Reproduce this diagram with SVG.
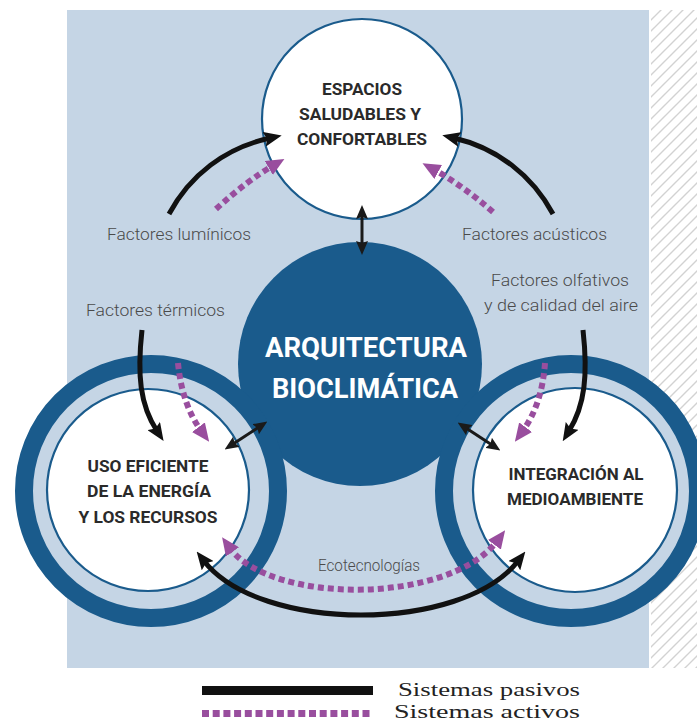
<svg xmlns="http://www.w3.org/2000/svg" width="697" height="724" viewBox="0 0 697 724">
<style>
.bg{fill:#c5d5e5}
.dark{fill:#1a5b8c}
.ring{fill:#c5d5e5;stroke:#1a5b8c;stroke-width:18}
.inner{fill:#ffffff;stroke:#1a5b8c;stroke-width:2.2}
.node{font-family:Roboto,"Liberation Sans",sans-serif;font-weight:bold;font-size:16px;fill:#2a2a2a;text-anchor:middle}
.main{font-family:Roboto,"Liberation Sans",sans-serif;font-weight:bold;font-size:27px;fill:#ffffff;text-anchor:middle}
.lab{font-family:Roboto,"Liberation Sans",sans-serif;font-weight:300;font-size:16px;fill:#4a4a4a}
.leg{font-family:"Liberation Serif",serif;font-size:19px;fill:#222222}
.pas{fill:none;stroke:#111111;stroke-width:5}
.pas2{fill:none;stroke:#1a1a1a;stroke-width:3}
.act{fill:none;stroke:#994e9e;stroke-width:6;stroke-dasharray:6 4}
</style>
<defs>
<marker id="ab" viewBox="0 0 18 15" refX="6" refY="7.5" markerWidth="18" markerHeight="15" orient="auto-start-reverse" markerUnits="userSpaceOnUse"><path d="M0,0 L18,7.5 L0,15 L3,7.5 Z" fill="#111111"/></marker>
<marker id="as" viewBox="0 0 14 12" refX="4" refY="6" markerWidth="14" markerHeight="12" orient="auto-start-reverse" markerUnits="userSpaceOnUse"><path d="M0,0 L14,6 L0,12 L2,6 Z" fill="#1a1a1a"/></marker>
<marker id="ap" viewBox="0 0 18 16" refX="6" refY="8" markerWidth="18" markerHeight="16" orient="auto-start-reverse" markerUnits="userSpaceOnUse"><path d="M0,0 L18,8 L0,16 Z" fill="#994e9e"/></marker>
<pattern id="hatch" patternUnits="userSpaceOnUse" width="11" height="11"><path d="M0,11 L11,0 M-2,2 L2,-2 M9,13 L13,9" stroke="#d2d2d2" stroke-width="1.4"/></pattern>
</defs>
<rect x="0" y="0" width="697" height="724" fill="#ffffff"/>
<rect class="bg" x="67" y="10" width="582" height="658"/>
<rect x="651" y="10" width="46" height="658" fill="url(#hatch)"/>

<g id="espacios">
<circle class="inner" cx="362" cy="119" r="100"/>
<text class="node" x="362" y="95" textLength="80" lengthAdjust="spacingAndGlyphs">ESPACIOS</text>
<text class="node" x="360" y="120" textLength="122" lengthAdjust="spacingAndGlyphs">SALUDABLES Y</text>
<text class="node" x="362" y="145" textLength="130" lengthAdjust="spacingAndGlyphs">CONFORTABLES</text>
</g>

<g id="arquitectura">
<circle class="dark" cx="360" cy="364" r="122"/>
<text class="main" x="366" y="357" textLength="202" lengthAdjust="spacingAndGlyphs">ARQUITECTURA</text>
<text class="main" x="365" y="398" textLength="186" lengthAdjust="spacingAndGlyphs">BIOCLIMÁTICA</text>
</g>

<g id="uso-eficiente">
<circle class="ring" cx="151" cy="491" r="127"/>
<circle class="inner" cx="148" cy="490" r="101"/>
<text class="node" x="148" y="472" textLength="121" lengthAdjust="spacingAndGlyphs">USO EFICIENTE</text>
<text class="node" x="149" y="497" textLength="124" lengthAdjust="spacingAndGlyphs">DE LA ENERGÍA</text>
<text class="node" x="148" y="523" textLength="139" lengthAdjust="spacingAndGlyphs">Y LOS RECURSOS</text>
</g>

<g id="integracion">
<circle class="ring" cx="571" cy="491" r="127"/>
<circle class="inner" cx="575" cy="490" r="102"/>
<text class="node" x="576" y="480" textLength="135" lengthAdjust="spacingAndGlyphs">INTEGRACIÓN AL</text>
<text class="node" x="575" y="505" textLength="136" lengthAdjust="spacingAndGlyphs">MEDIOAMBIENTE</text>
</g>

<g id="connectors">
<path class="pas" d="M169,214 C190,175 225,148 270,138" marker-end="url(#ab)"/>
<path class="act" d="M216,209 Q248,180 274,165" marker-end="url(#ap)"/>
<path class="pas" d="M553,214 C532,175 497,148 454,138" marker-end="url(#ab)"/>
<path class="act" d="M493,212 Q462,185 433,169" marker-end="url(#ap)"/>
<path class="pas" d="M142,330 C137,375 140,405 157,431" marker-end="url(#ab)"/>
<path class="act" d="M178,363 Q182,405 202,432" marker-end="url(#ap)"/>
<path class="pas" d="M583,330 C588,375 585,405 569,431" marker-end="url(#ab)"/>
<path class="act" d="M545,363 Q542,405 522,432" marker-end="url(#ap)"/>
<path class="pas2" d="M362,215 L362,245" marker-start="url(#as)" marker-end="url(#as)"/>
<path class="pas2" d="M233,444 L259,427" marker-start="url(#as)" marker-end="url(#as)"/>
<path class="pas2" d="M466,428 L492,445" marker-start="url(#as)" marker-end="url(#as)"/>
<path class="act" d="M229,547 C270,605 450,605 498,540" marker-start="url(#ap)" marker-end="url(#ap)"/>
<path class="pas" d="M204,561 C260,633 462,633 518,561" marker-start="url(#ab)" marker-end="url(#ab)"/>
</g>

<g id="labels">
<text class="lab" x="107" y="240" textLength="144" lengthAdjust="spacingAndGlyphs">Factores lumínicos</text>
<text class="lab" x="462" y="240" textLength="145" lengthAdjust="spacingAndGlyphs">Factores acústicos</text>
<text class="lab" x="86" y="316" textLength="139" lengthAdjust="spacingAndGlyphs">Factores térmicos</text>
<text class="lab" x="491" y="286" textLength="138" lengthAdjust="spacingAndGlyphs">Factores olfativos</text>
<text class="lab" x="484" y="311" textLength="154" lengthAdjust="spacingAndGlyphs">y de calidad del aire</text>
<text class="lab" x="318" y="571" font-size="14" textLength="102" lengthAdjust="spacingAndGlyphs">Ecotecnologías</text>
</g>

<g id="legend">
<rect x="202" y="686" width="171" height="9" fill="#111111"/>
<line x1="202" y1="713.5" x2="373" y2="713.5" stroke="#994e9e" stroke-width="7" stroke-dasharray="7 3.7"/>
<text class="leg" x="398" y="696" textLength="182" lengthAdjust="spacingAndGlyphs">Sistemas pasivos</text>
<text class="leg" x="394" y="718" textLength="186" lengthAdjust="spacingAndGlyphs">Sistemas activos</text>
</g>
</svg>
